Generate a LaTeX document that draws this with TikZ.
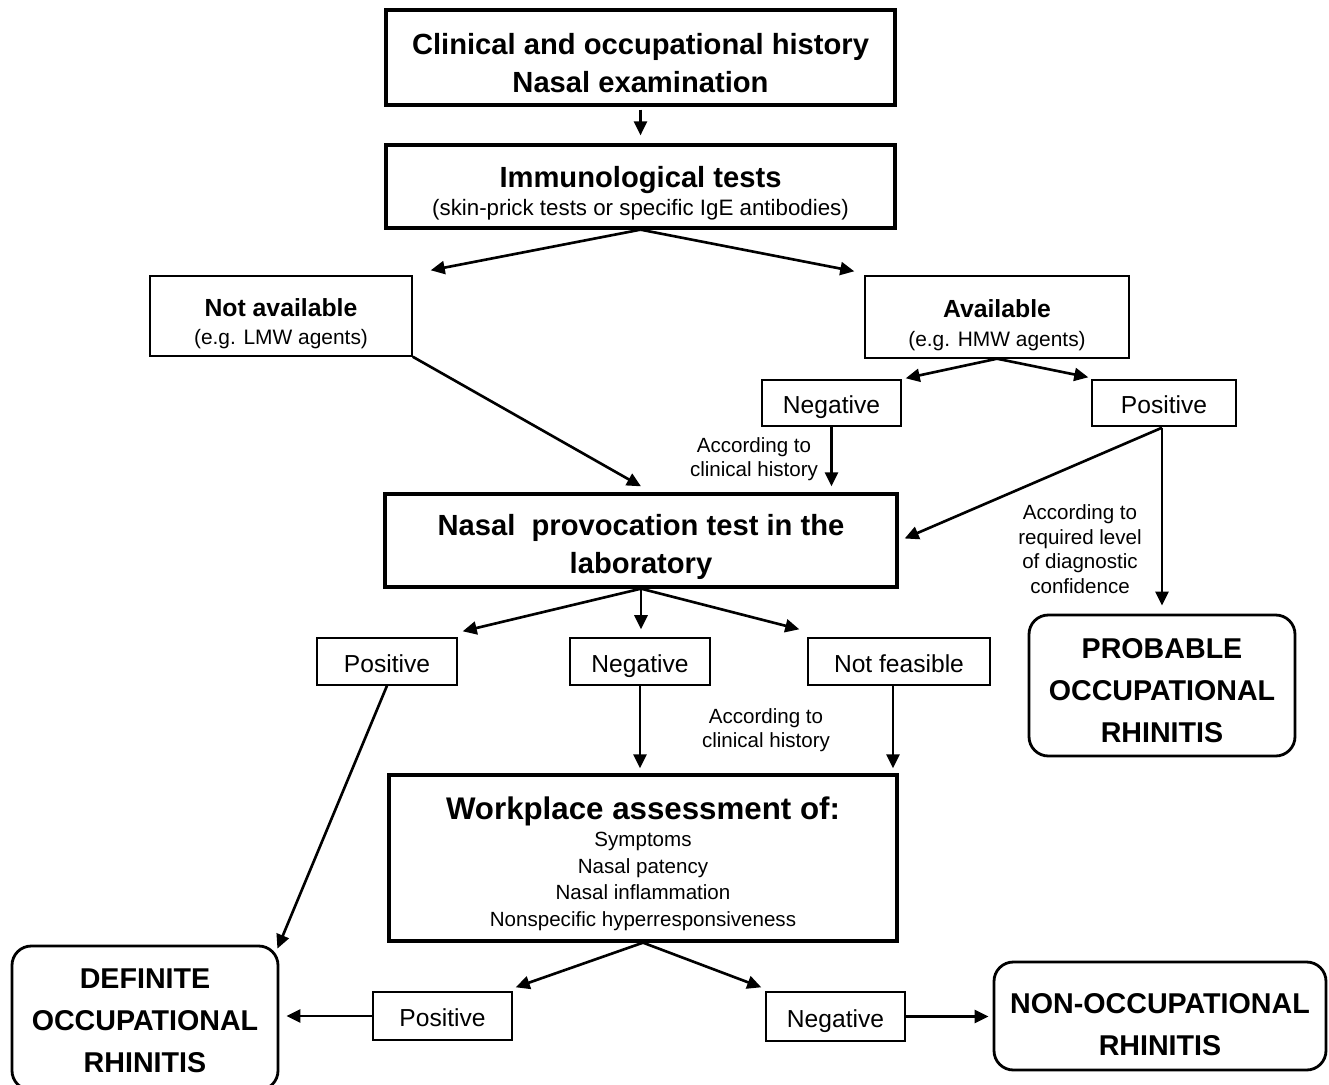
\documentclass[tikz,border=0pt]{standalone}
\usepackage{fontspec}
\setmainfont{Liberation Sans}
\usetikzlibrary{arrows.meta,calc}

\newlength\px
\setlength\px{0.02cm}

% fonts
\newcommand{\headfont}{\fontsize{16.6}{21.5}\selectfont\bfseries}
\newcommand{\subhead}{\fontsize{14.1}{17}\selectfont\bfseries}
\newcommand{\subfont}{\fontsize{12.7}{16}\selectfont\mdseries}
\newcommand{\smallsub}{\fontsize{11.9}{16.2}\selectfont}
\newcommand{\labfont}{\fontsize{14}{17}\selectfont}
\newcommand{\notefont}{\fontsize{11.7}{14}\selectfont}
\newcommand{\resultfont}{\fontsize{16.3}{23.8}\selectfont\bfseries}
\newcommand{\topstrut}[1]{\rule{0pt}{#1}}

\tikzset{
  mainbox/.style={draw, line width=1.9pt, align=center, inner sep=0pt, font=\headfont},
  subbox/.style={draw, line width=0.8pt, align=center, inner sep=0pt},
  labbox/.style={subbox, font=\labfont, text height=15pt, text depth=2.9pt},
  resbox/.style={draw, line width=1.6pt, rounded corners=11pt, align=center, inner sep=0pt, font=\resultfont},
  note/.style={align=center, inner sep=0pt, font=\notefont},
  arr/.style={-{Triangle[length=8pt,width=7.4pt]}, line width=1.5pt},
}

\begin{document}
\begin{tikzpicture}[x=0.02cm, y=-0.02cm]
  \useasboundingbox (0,0) rectangle (1329,1085);

  % top boxes
  \node[mainbox, minimum width=509\px, minimum height=95\px] (hist) at (640.5,57.5)
    {\topstrut{18.4pt}Clinical and occupational history\\Nasal examination};
  \node[mainbox, minimum width=509\px, minimum height=83\px,
        font={\fontsize{16.6}{16.2}\selectfont\bfseries}] (immuno) at (640.5,186.5)
    {\topstrut{20pt}Immunological tests\\{\subfont (skin-prick tests or specific IgE antibodies)}};

  % immunological branches
  \node[subbox, minimum width=262\px, minimum height=80\px, font=\smallsub] (notav) at (281,316)
    {\topstrut{18.7pt}{\subhead Not available}\\(e.g. LMW agents)};
  \node[subbox, minimum width=264\px, minimum height=82\px, font=\smallsub] (avail) at (997,317)
    {\topstrut{19.4pt}{\subhead Available}\\(e.g. HMW agents)};
  \node[labbox, minimum width=139\px, minimum height=46\px] (negA) at (831.5,403) {Negative};
  \node[labbox, minimum width=144\px, minimum height=46\px] (posA) at (1164,403) {Positive};

  % provocation test
  \node[mainbox, minimum width=512\px, minimum height=93\px] (npt) at (641,540.5)
    {\topstrut{19.5pt}Nasal\ \ provocation test in the\\laboratory};
  \node[resbox, minimum width=266\px, minimum height=141\px] (prob) at (1162,685.5)
    {\topstrut{17.5pt}PROBABLE\\OCCUPATIONAL\\RHINITIS};

  \node[labbox, minimum width=140\px, minimum height=47\px] (posB) at (387,661.5) {Positive};
  \node[labbox, minimum width=140\px, minimum height=47\px] (negB) at (640,661.5) {Negative};
  \node[labbox, minimum width=182\px, minimum height=47\px] (nfeas) at (899,661.5) {Not feasible};

  % workplace
  \node[mainbox, minimum width=508\px, minimum height=166\px,
        font={\fontsize{11.7}{15.3}\selectfont}] (work) at (643,858)
    {\topstrut{19.5pt}{\fontsize{17.8}{21}\selectfont\bfseries Workplace assessment of:}\\
     Symptoms\\Nasal patency\\Nasal inflammation\\Nonspecific hyperresponsiveness};

  % outcomes
  \node[resbox, minimum width=266\px, minimum height=144\px] (defin) at (145,1018)
    {\topstrut{14.7pt}DEFINITE\\OCCUPATIONAL\\RHINITIS};
  \node[labbox, minimum width=139\px, minimum height=48\px] (posC) at (442.5,1016) {Positive};
  \node[labbox, minimum width=139\px, minimum height=49\px] (negC) at (835.5,1016.5) {Negative};
  \node[resbox, minimum width=332\px, minimum height=108\px] (nonocc) at (1160,1016)
    {\topstrut{20.9pt}NON-OCCUPATIONAL\\RHINITIS};

  % notes
  \node[note] (lab1) at (754,459) {According to\\clinical history};
  \node[note] (lab2) at (1080,549) {According to\\required level\\of diagnostic\\confidence};
  \node[note] (lab3) at (766,730) {According to\\clinical history};

  % connectors
  \draw[arr, shorten <=1.7pt, shorten >=4.5pt] (hist) -- (immuno);
  \draw[arr] (immuno.south) -- ($(notav.north east)+(18,-5)$);
  \draw[arr] (immuno.south) -- ($(avail.north west)+(-10,-4)$);
  \draw[arr] (notav.south east) -- ($(npt.north)+(0,-6)$);
  \draw[arr] (avail.south) -- ($(negA.north east)+(4,-1)$);
  \draw[arr] (avail.south) -- ($(posA.north west)+(-3,-2)$);
  \draw[arr] (negA.south) -- ($(negA.south |- npt.north)+(0,-6)$);
  \draw[arr] ($(posA.south)+(-2,1)$) -- ($(npt.east)+(6,-2)$);
  \draw[arr] ($(posA.south)+(-2,1)$) -- ($(posA.south |- prob.north)+(-2,-8)$);
  \draw[arr] (npt.south) -- ($(posB.north east)+(5,-6)$);
  \draw[arr] (npt.south) -- ($(negB.north)+(1,-8)$);
  \draw[arr] (npt.south) -- ($(nfeas.north west)+(-8,-8)$);
  \draw[arr] (posB.south) -- ($(defin.north east)+(-2,4)$);
  \draw[arr] (negB.south) -- ($(negB.south |- work.north)+(0,-5)$);
  \draw[arr] ($(nfeas.south)+(-6,0)$) -- ($(nfeas.south |- work.north)+(-6,-5)$);
  \draw[arr] (work.south) -- ($(posC.north east)+(3,-4)$);
  \draw[arr] (work.south) -- ($(negC.north west)+(-4,-4)$);
  \draw[arr, shorten >=4pt] (posC.west) -- (posC.west -| defin.east);
  \draw[arr, shorten >=2.3pt] (negC.east) -- (negC.east -| nonocc.west);

\end{tikzpicture}
\end{document}
